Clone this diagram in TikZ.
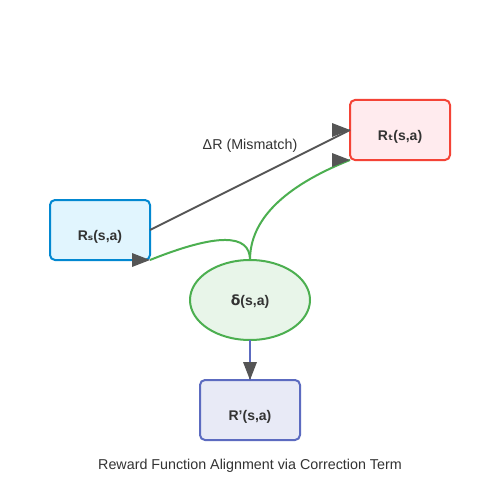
\documentclass[tikz,border=0pt]{standalone}
\usepackage{fontspec}
\setmainfont{Liberation Sans}
\newfontfamily\dejavu{DejaVu Sans}
\usetikzlibrary{shapes.geometric}
\definecolor{txt}{HTML}{333333}
\definecolor{edgegray}{HTML}{555555}
\definecolor{bluefill}{HTML}{E1F5FE}
\definecolor{bluedraw}{HTML}{0288D1}
\definecolor{redfill}{HTML}{FFEBEE}
\definecolor{reddraw}{HTML}{F44336}
\definecolor{greenfill}{HTML}{E8F5E9}
\definecolor{greendraw}{HTML}{4CAF50}
\definecolor{indfill}{HTML}{E8EAF6}
\definecolor{inddraw}{HTML}{5C6BC0}
\tikzset{
  box/.style={draw, line width=2pt, rounded corners=5pt, minimum width=100pt, minimum height=60pt, inner sep=0pt, outer sep=0pt},
  oval/.style={ellipse, draw, line width=2pt, minimum width=120pt, minimum height=80pt, inner sep=0pt, outer sep=0pt},
  lbl/.style={text=txt, font=\bfseries\fontsize{14}{16}\selectfont, inner sep=0pt},
  plain/.style={text=txt, font=\fontsize{14.3}{16}\selectfont, inner sep=0pt},
  grayedge/.style={draw=edgegray, line width=2pt},
  greenedge/.style={draw=greendraw, line width=2pt},
  blueedge/.style={draw=inddraw, line width=2pt},
  tipfill/.style={fill=edgegray}
}
\begin{document}
\begin{tikzpicture}[x=1pt,y=-1pt]
\fill[white] (0,0) rectangle (500,500);
\useasboundingbox (0,0) rectangle (500,500);
% nodes
\node[box, fill=bluefill, draw=bluedraw] (rs) at (100,230) {};
\node[lbl] (rslbl) at (100,236.5) {R{\dejavu\bfseries ₛ}(s,a)};
\node[box, fill=redfill, draw=reddraw] (rt) at (400,130) {};
\node[lbl] (rtlbl) at (400,136.5) {R{\dejavu\bfseries ₜ}(s,a)};
\node[oval, fill=greenfill, draw=greendraw] (phi) at (250,300) {};
\node[lbl] (philbl) at (250,301.5) {{\dejavu\bfseries δ}(s,a)};
\node[box, fill=indfill, draw=inddraw] (rp) at (250,410) {};
\node[lbl] (rplbl) at (250,416.5) {R'(s,a)};
% connectors
\draw[grayedge] (rs.east) -- (rt.west);
\draw[greenedge] (phi.north) .. controls (250,220) and (283.3,186.7) .. (rt.south west);
\draw[greenedge] (phi.north) .. controls (250,233.3) and (216.7,233.3) .. (rs.south east);
\draw[blueedge] (phi.south) -- (rp.north);
% arrowheads
\fill[tipfill] (rt.west) -- ++(-18,-7) -- ++(0,14) -- cycle;
\fill[tipfill] (rt.south west) -- ++(-18,-7) -- ++(0,14) -- cycle;
\fill[tipfill] (rs.south east) -- ++(-18,-7) -- ++(0,14) -- cycle;
\fill[tipfill] (rp.north) -- ++(-7,-18) -- ++(14,0) -- cycle;
% labels
\node[plain] (dr) at (250,146) {ΔR (Mismatch)};
\node[plain] (title) at (250,466) {Reward Function Alignment via Correction Term};
\end{tikzpicture}
\end{document}
